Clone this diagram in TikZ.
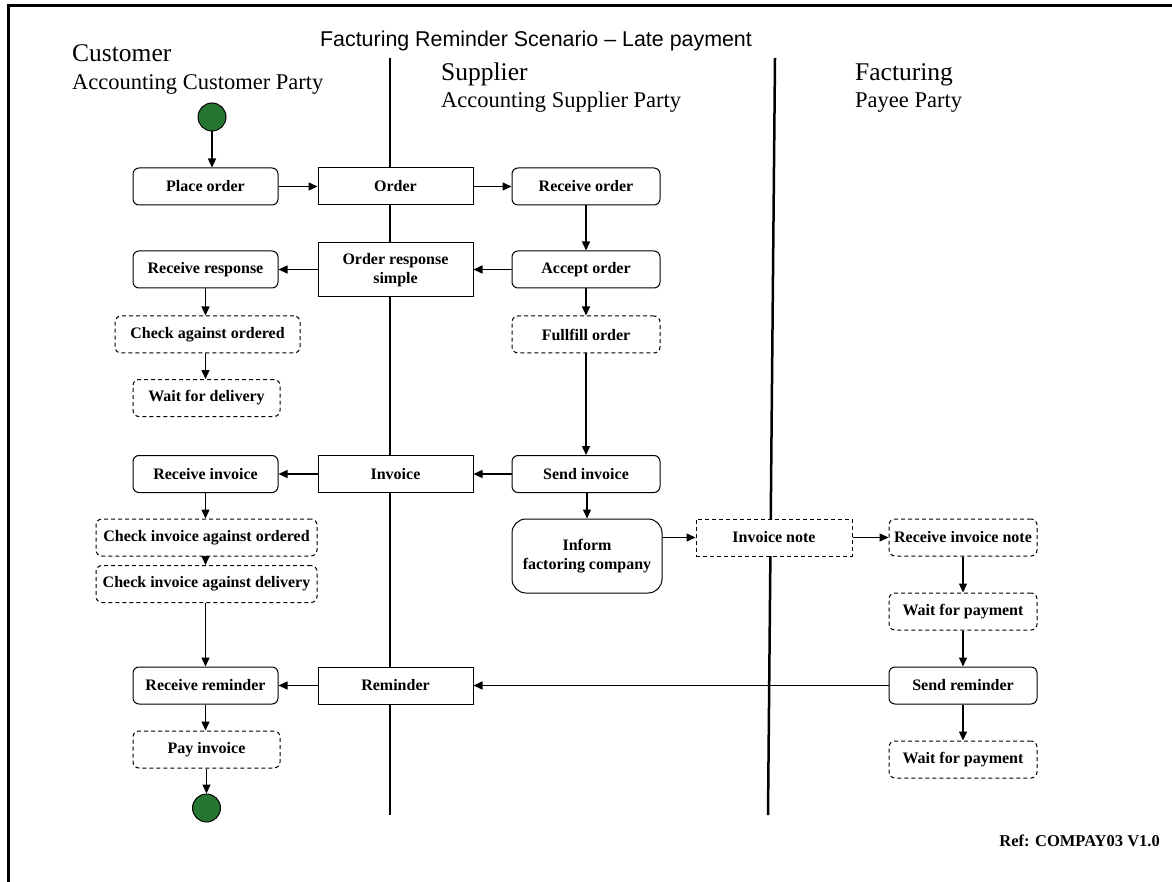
\documentclass[tikz,border=0pt]{standalone}
\usepackage{fontspec}
\setmainfont{Liberation Serif}
\newfontfamily\titlefont{Liberation Sans}
\usetikzlibrary{arrows.meta}
\definecolor{startgreen}{RGB}{38,118,50}
\begin{document}
\begin{tikzpicture}[x=1pt,y=-1pt,
 box/.style={draw,line width=1pt,fill=white,rounded corners=6pt,inner sep=0pt,align=center,
   minimum height=37pt,font=\fontsize{16}{19.5}\selectfont\bfseries},
 dbox/.style={box,dash pattern=on 4pt off 3pt},
 msg/.style={box,rounded corners=0pt},
 dmsg/.style={msg,dash pattern=on 4pt off 3pt},
 arr/.style={-{Triangle[length=9pt,width=8pt]},line width=1.4pt},
 lane/.style={line width=2.5pt},
 endpt/.style={circle,draw,line width=1pt,fill=startgreen,minimum size=28pt,inner sep=0pt},
 head/.style={anchor=base west,inner sep=0pt,font=\fontsize{25.5}{28}\selectfont},
 sub/.style={anchor=base west,inner sep=0pt,font=\fontsize{22.5}{26}\selectfont}
]
\useasboundingbox (0,0) rectangle (1172,882);
% frame
\draw[line width=2.4pt] (8.3,882) -- (8.3,5.5) -- (1172,5.5);
% lanes
\coordinate (l1t) at (390,58);
\coordinate (l1b) at (390,815);
\coordinate (l2t) at (775,58);
\coordinate (l2b) at (768,815);
\draw[lane] (l1t) -- (l1b);
\draw[lane] (l2t) -- (l2b);
% titles
\node[inner sep=0pt,anchor=base,font=\titlefont\fontsize{21.4}{24}\selectfont] (title) at (536,47) {Facturing Reminder Scenario \textendash{} Late payment};
\node[head] (hcust) at (72,62) {Customer};
\node[sub] (scust) at (72,90) {Accounting Customer Party};
\node[head] (hsup) at (441,81) {Supplier};
\node[sub] (ssup) at (441,108) {Accounting Supplier Party};
\node[head] (hfac) at (855,81) {Facturing};
\node[sub] (sfac) at (855,108) {Payee Party};
\node[anchor=base east,inner sep=0pt,font=\fontsize{16.5}{19}\selectfont\bfseries] (ref) at (1160,846) {Ref: COMPAY03 V1.0};
% nodes
\node[endpt] (start) at (212,117) {};
\node[box,minimum width=145pt] (place) at (205.5,186.5) {Place order};
\node[msg,minimum width=155pt] (order) at (395.5,186.5) {Order};
\node[box,minimum width=148pt] (recvorder) at (586,186.5) {Receive order};
\node[box,minimum width=145pt] (recvresp) at (205.5,269.5) {Receive response};
\node[msg,minimum width=155pt,minimum height=54pt] (ordresp) at (395.5,270) {Order response\\simple};
\node[box,minimum width=148pt] (accept) at (586,269.5) {Accept order};
\node[dbox,minimum width=185pt] (checkord) at (207.5,334.5) {Check against ordered};
\node[dbox,minimum width=148pt] (fulfill) at (586,334.5) {Fullfill order};
\node[dbox,minimum width=147pt] (waitdel) at (206.5,398) {Wait for delivery};
\node[box,minimum width=145pt] (recvinv) at (205.5,474) {Receive invoice};
\node[msg,minimum width=155pt] (invoice) at (395.5,474) {Invoice};
\node[box,minimum width=148pt] (sendinv) at (586,474) {Send invoice};
\node[box,minimum width=150pt,minimum height=74pt,rounded corners=14pt] (inform) at (587,556) {Inform\\factoring company};
\node[dmsg,minimum width=156pt] (note) at (774,537.5) {Invoice note};
\node[dbox,minimum width=148pt] (recvnote) at (963,537.5) {Receive invoice note};
\node[dbox,minimum width=221pt] (checkinvord) at (206.5,537.5) {Check invoice against ordered};
\node[dbox,minimum width=221pt] (checkinvdel) at (206.5,584) {Check invoice against delivery};
\node[dbox,minimum width=148pt] (waitpay1) at (963,611.5) {Wait for payment};
\node[box,minimum width=145pt] (recvrem) at (205.5,685.5) {Receive reminder};
\node[msg,minimum width=155pt] (reminder) at (395.5,685.5) {Reminder};
\node[box,minimum width=148pt] (sendrem) at (963,685.5) {Send reminder};
\node[dbox,minimum width=147pt] (payinv) at (206.5,749.5) {Pay invoice};
\node[dbox,minimum width=148pt] (waitpay2) at (963,759.5) {Wait for payment};
\node[endpt] (stop) at (206.5,808) {};
% connectors
\draw[arr] (start.south) -- (start.south |- place.north);
\draw[arr] (place) -- (order);
\draw[arr] (order) -- (recvorder);
\draw[arr] (recvorder) -- (accept);
\draw[arr] (accept) -- (ordresp.east |- accept.west);
\draw[arr] (ordresp.west |- recvresp.east) -- (recvresp);
\draw[arr] (recvresp.south) -- (recvresp.south |- checkord.north);
\draw[arr] (checkord.south -| recvresp.south) -- (recvresp.south |- waitdel.north);
\draw[arr] (accept) -- (fulfill);
\draw[arr] (fulfill) -- (sendinv);
\draw[arr] (sendinv) -- (invoice);
\draw[arr] (invoice) -- (recvinv);
\draw[arr] (recvinv.south) -- (recvinv.south |- checkinvord.north);
\draw[arr] (checkinvord.south -| recvinv.south) -- (recvinv.south |- checkinvdel.north);
\draw[arr] (checkinvdel.south -| recvinv.south) -- (recvinv.south |- recvrem.north);
\draw[arr] (sendinv.south -| inform.north) -- (inform.north);
\draw[arr] (note.west -| inform.east) -- (note.west);
\draw[arr] (note) -- (recvnote);
\draw[arr] (recvnote) -- (waitpay1);
\draw[arr] (waitpay1) -- (sendrem);
\draw[arr] (sendrem) -- (waitpay2);
\draw[arr] (sendrem) -- (reminder);
\draw[arr] (reminder) -- (recvrem);
\draw[arr] (recvrem.south) -- (recvrem.south |- payinv.north);
\draw[arr] (payinv.south) -- (stop.north);
\end{tikzpicture}
\end{document}
